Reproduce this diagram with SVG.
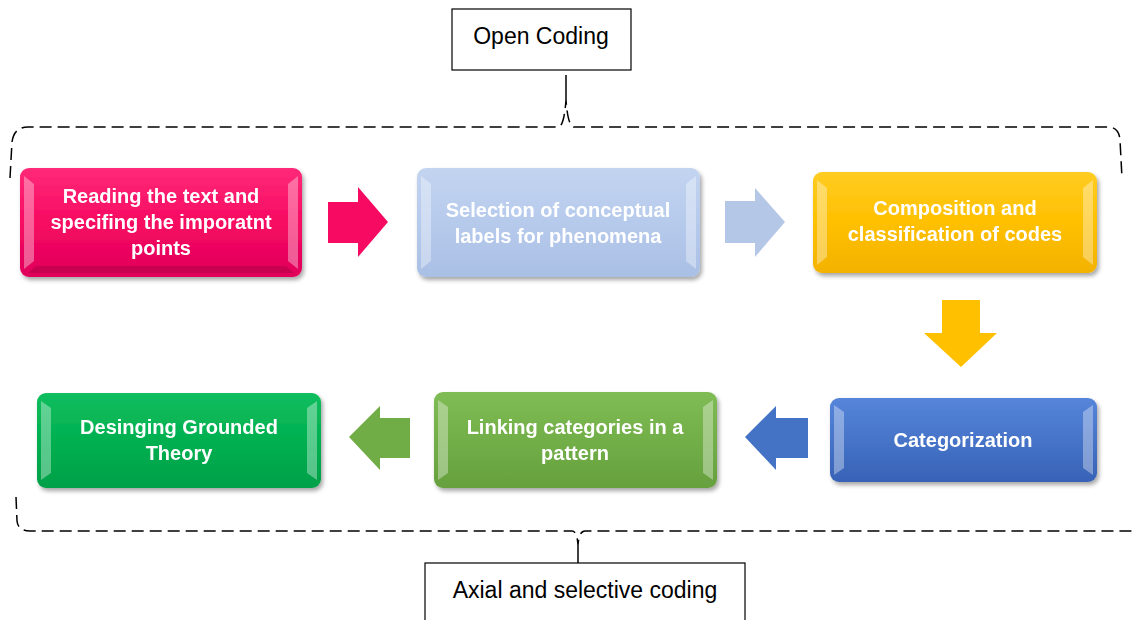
<svg xmlns="http://www.w3.org/2000/svg" width="1134" height="620" viewBox="0 0 1134 620">
<defs>
<style>
.lbl{font-family:"Liberation Sans",Arial,sans-serif;font-weight:bold;font-size:20px;fill:#fff;text-anchor:middle}
.cap{font-family:"Liberation Sans",Arial,sans-serif;font-size:23px;fill:#000;text-anchor:middle}
.brace{fill:none;stroke:#000;stroke-width:1.5;stroke-dasharray:12 6}
.capbox{fill:#fff;stroke:#000;stroke-width:1.2}
.bev{fill:#fff;opacity:0.35}
.bevd{fill:#000;opacity:0.12}
</style>
<filter id="sh" x="-10%" y="-10%" width="125%" height="135%">
<feDropShadow dx="2" dy="3" stdDeviation="2" flood-color="#000" flood-opacity="0.35"/>
</filter>
<linearGradient id="gPink" x1="0" y1="0" x2="0" y2="1"><stop offset="0" stop-color="#FF2A78"/><stop offset="0.5" stop-color="#F70A62"/><stop offset="1" stop-color="#E0005A"/></linearGradient>
<linearGradient id="gLb" x1="0" y1="0" x2="0" y2="1"><stop offset="0" stop-color="#C3D4F0"/><stop offset="0.5" stop-color="#B6CAEC"/><stop offset="1" stop-color="#A9BFE4"/></linearGradient>
<linearGradient id="gYel" x1="0" y1="0" x2="0" y2="1"><stop offset="0" stop-color="#FFCC22"/><stop offset="0.5" stop-color="#FFC000"/><stop offset="1" stop-color="#F2B200"/></linearGradient>
<linearGradient id="gBlue" x1="0" y1="0" x2="0" y2="1"><stop offset="0" stop-color="#5585DA"/><stop offset="0.5" stop-color="#4674C8"/><stop offset="1" stop-color="#3762B6"/></linearGradient>
<linearGradient id="gLg" x1="0" y1="0" x2="0" y2="1"><stop offset="0" stop-color="#80BC55"/><stop offset="0.5" stop-color="#72AF48"/><stop offset="1" stop-color="#66A03E"/></linearGradient>
<linearGradient id="gDg" x1="0" y1="0" x2="0" y2="1"><stop offset="0" stop-color="#12BE5E"/><stop offset="0.5" stop-color="#00B050"/><stop offset="1" stop-color="#00A048"/></linearGradient>
</defs>
<rect width="1134" height="620" fill="#fff"/>

<g id="connectors">
<polygon points="328,202 358,202 358,187 388,222 358,257 358,243 328,243" fill="#F70A62"/>
<polygon points="725,201 755,201 755,188 785,222 755,257 755,243 725,243" fill="#B4C7E7"/>
<polygon points="942,300 980,300 980,333 997,333 961,367 924,333 942,333" fill="#FFC000"/>
<polygon points="808,418 776,418 776,406 745,437 776,470 776,458 808,458" fill="#4472C4"/>
<polygon points="410,418 380,418 380,406 349,437 380,470 380,458 410,458" fill="#70AD47"/>
<path class="brace" d="M10,178 L12,142 Q14,127 28,127 H558 Q564,127 566,100 Q568,127 574,127 H1108 Q1119,127 1120,140 L1122,178"/>
<path d="M566,100 V75" fill="none" stroke="#000" stroke-width="1.5"/>
<path class="brace" d="M16,497 L17,521 Q18,531 30,531 H572 Q577,531 578,545 Q579,531 585,531 H1132"/>
<path d="M578,545 V563" fill="none" stroke="#000" stroke-width="1.5"/>
</g>

<g id="open-coding">
<rect class="capbox" x="452" y="9" width="179" height="61"/>
<text class="cap" x="541" y="44">Open Coding</text>
</g>

<g id="axial-coding">
<rect class="capbox" x="425" y="563" width="320" height="70"/>
<text class="cap" x="585" y="598">Axial and selective coding</text>
</g>

<g id="n1" filter="url(#sh)">
<rect x="20" y="168" width="282" height="109" rx="9" fill="url(#gPink)"/>
<polygon class="bev" points="24,176 34,184 34,261 24,269"/>
<polygon class="bev" points="298,176 288,184 288,261 298,269"/>
<polygon class="bevd" points="28,273 294,273 286,266 36,266"/>
<text class="lbl" x="161" y="203">Reading the text and</text>
<text class="lbl" x="161" y="229">specifing the imporatnt</text>
<text class="lbl" x="161" y="255">points</text>
</g>

<g id="n2" filter="url(#sh)">
<rect x="417" y="168" width="283" height="109" rx="9" fill="url(#gLb)"/>
<polygon class="bev" points="421,176 431,184 431,261 421,269"/>
<polygon class="bev" points="696,176 686,184 686,261 696,269" opacity="0.6"/>
<text class="lbl" x="558" y="217">Selection of conceptual</text>
<text class="lbl" x="558" y="243">labels for phenomena</text>
</g>

<g id="n3" filter="url(#sh)">
<rect x="813" y="172" width="284" height="101" rx="9" fill="url(#gYel)"/>
<polygon class="bev" points="817,180 827,188 827,257 817,265"/>
<polygon class="bev" points="1093,180 1083,188 1083,257 1093,265"/>
<text class="lbl" x="955" y="215">Composition and</text>
<text class="lbl" x="955" y="241">classification of codes</text>
</g>

<g id="n4" filter="url(#sh)">
<rect x="830" y="398" width="267" height="84" rx="9" fill="url(#gBlue)"/>
<polygon class="bev" points="834,405 844,412 844,468 834,475"/>
<polygon class="bev" points="1093,405 1083,412 1083,468 1093,475"/>
<text class="lbl" x="963" y="447">Categorization</text>
</g>

<g id="n5" filter="url(#sh)">
<rect x="434" y="392" width="283" height="96" rx="9" fill="url(#gLg)"/>
<polygon class="bev" points="438,400 448,407 448,473 438,480"/>
<polygon class="bev" points="713,400 703,407 703,473 713,480"/>
<text class="lbl" x="575" y="434">Linking categories in a</text>
<text class="lbl" x="575" y="460">pattern</text>
</g>

<g id="n6" filter="url(#sh)">
<rect x="37" y="393" width="284" height="95" rx="9" fill="url(#gDg)"/>
<polygon class="bev" points="41,401 51,408 51,473 41,480"/>
<polygon class="bev" points="317,401 307,408 307,473 317,480"/>
<text class="lbl" x="179" y="434">Desinging Grounded</text>
<text class="lbl" x="179" y="460">Theory</text>
</g>
</svg>
